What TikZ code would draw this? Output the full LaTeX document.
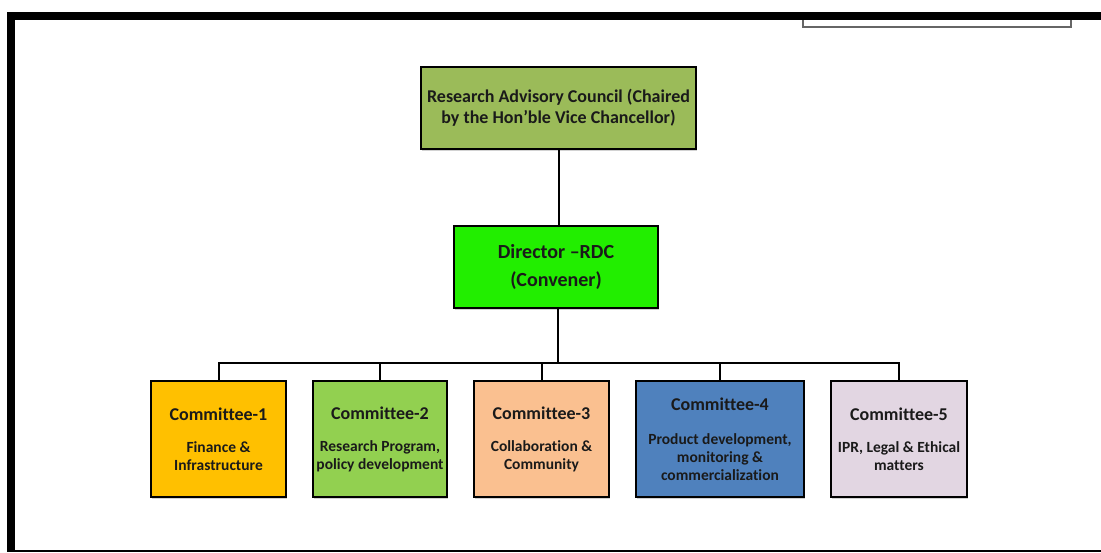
\documentclass[tikz,border=0pt]{standalone}
\usepackage{fontspec}
\setmainfont{Carlito}[Ligatures={NoCommon}]
\usetikzlibrary{shadows}
\definecolor{racfill}{HTML}{9BBB59}
\definecolor{dirfill}{HTML}{22EE00}
\definecolor{cA}{HTML}{FFC000}
\definecolor{cB}{HTML}{92D050}
\definecolor{cC}{HTML}{FAC090}
\definecolor{cD}{HTML}{4F81BD}
\definecolor{cE}{HTML}{E2D6E2}
\definecolor{txt}{HTML}{1A1A1A}
\tikzset{
  box/.style={draw=black, line width=2.2pt, text=txt, align=center, inner sep=0pt,
    font=\bfseries, drop shadow={shadow xshift=1.2pt, shadow yshift=-2pt, opacity=0.35}},
  cbox/.style={box, minimum height=116pt, font=\bfseries\fontsize{15.5}{17.5}\selectfont},
  conn/.style={draw=black, line width=2pt},
  frameline/.style={fill=black, draw=none}
}
\newcommand{\ctitle}[1]{{\fontsize{18}{20}\selectfont #1}}
\begin{document}
\begin{tikzpicture}[x=1pt,y=-1pt]
\useasboundingbox[fill=white] (0,0) rectangle (1101,552);
% frame
\fill[frameline] (7,12) rectangle (1101,20);
\fill[frameline] (7,12) rectangle (15,552);
\fill[frameline] (7,549.5) rectangle (1101,552);
\draw[gray!80!black, line width=1.2pt] (803,20) -- (803,27) -- (1071,27) -- (1071,20);
% nodes
\node[box, fill=racfill, minimum width=275pt, minimum height=82pt,
  font=\bfseries\fontsize{18}{21}\selectfont] (rac) at (558.5,108)
  {Research Advisory Council (Chaired\\by the Hon’ble Vice Chancellor)};
\node[box, fill=dirfill, minimum width=204pt, minimum height=82pt,
  font=\bfseries\fontsize{20}{28}\selectfont] (dir) at (556,267)
  {Director –RDC\\(Convener)};
\node[cbox, fill=cA, minimum width=135pt] (c1) at (218.5,439)
  {\ctitle{Committee-1}\\[15pt]Finance \&\\Infrastructure};
\node[cbox, fill=cB, minimum width=134pt] (c2) at (380,439)
  {\ctitle{Committee-2}\\[15pt]Research Program,\\policy development};
\node[cbox, fill=cC, minimum width=135pt] (c3) at (541.5,439)
  {\ctitle{Committee-3}\\[15pt]Collaboration \&\\Community};
\node[cbox, fill=cD, minimum width=168pt] (c4) at (720,439)
  {\ctitle{Committee-4}\\[17pt]Product development,\\monitoring \&\\[1pt]commercialization};
\node[cbox, fill=cE, minimum width=136pt] (c5) at (899,439)
  {\ctitle{Committee-5}\\[15pt]IPR, Legal \& Ethical\\matters};
% connectors
\coordinate (bus) at (558,363);
\draw[conn] (rac.south) -- (rac.south |- dir.north);
\draw[conn] (bus |- dir.south) -- (bus);
\draw[conn] (c1.north) -- (c1.north |- bus) -- (c5.north |- bus) -- (c5.north);
\draw[conn] (c2.north) -- (c2.north |- bus);
\draw[conn] (c3.north) -- (c3.north |- bus);
\draw[conn] (c4.north) -- (c4.north |- bus);
\end{tikzpicture}
\end{document}
